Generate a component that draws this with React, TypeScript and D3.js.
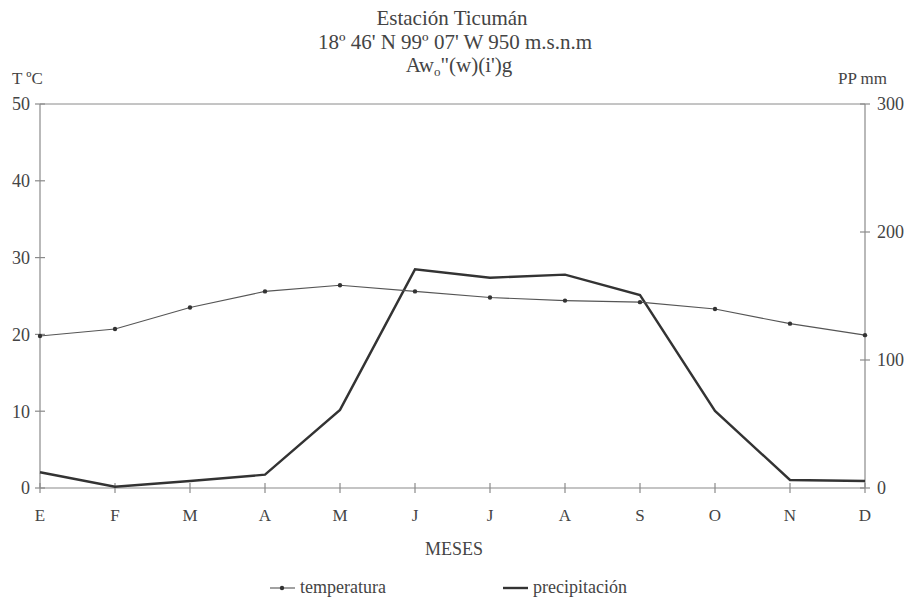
import React, { useEffect, useRef } from 'react';
import * as d3 from 'd3';

const months = ['E', 'F', 'M', 'A', 'M', 'J', 'J', 'A', 'S', 'O', 'N', 'D'];
const temperatura = [19.8, 20.7, 23.5, 25.6, 26.4, 25.6, 24.8, 24.4, 24.2, 23.3, 21.4, 19.9];
const precipitacion = [12.3, 1.0, 5.5, 10.4, 61.0, 170.8, 164.3, 166.7, 150.8, 60.2, 6.3, 5.5];
const tempTicks = [0, 10, 20, 30, 40, 50];
const ppTicks = [0, 100, 200, 300];

const FONT = "'Liberation Serif', Tinos, 'Times New Roman', Times, serif";
const TEXT = '#444';
const AXIS = '#8a8a8a';

function App() {
    const ref = useRef<SVGSVGElement>(null);

    useEffect(() => {
        const svg = d3.select(ref.current);
        svg.selectAll('*').remove();

        const left = 40, right = 865, top = 104, bottom = 488;

        const x = d3.scalePoint<number>()
            .domain(d3.range(12))
            .range([left, right]);
        const yT = d3.scaleLinear().domain([0, 50]).range([bottom, top]);
        const yP = d3.scaleLinear().domain([0, 300]).range([bottom, top]);

        // frame lines
        const g = svg.append('g');
        g.append('line').attr('x1', left).attr('x2', right).attr('y1', top).attr('y2', top)
            .attr('stroke', AXIS).attr('stroke-width', 1);
        g.append('line').attr('x1', left).attr('x2', right).attr('y1', bottom).attr('y2', bottom)
            .attr('stroke', AXIS).attr('stroke-width', 1.2);
        g.append('line').attr('x1', left).attr('x2', left).attr('y1', top).attr('y2', bottom)
            .attr('stroke', AXIS).attr('stroke-width', 1.2);
        g.append('line').attr('x1', right).attr('x2', right).attr('y1', top).attr('y2', bottom)
            .attr('stroke', AXIS).attr('stroke-width', 1.2);

        // left ticks
        tempTicks.forEach(t => {
            g.append('line').attr('x1', left - 5).attr('x2', left + 5)
                .attr('y1', yT(t)).attr('y2', yT(t)).attr('stroke', AXIS).attr('stroke-width', 1.2);
            g.append('text').attr('x', left - 10).attr('y', yT(t)).attr('dy', '0.35em')
                .attr('text-anchor', 'end').style('font-size', '18px')
                .attr('fill', TEXT).text(t);
        });

        // right ticks
        ppTicks.forEach(t => {
            g.append('line').attr('x1', right - 5).attr('x2', right + 5)
                .attr('y1', yP(t)).attr('y2', yP(t)).attr('stroke', AXIS).attr('stroke-width', 1.2);
            g.append('text').attr('x', right + 12).attr('y', yP(t)).attr('dy', '0.35em')
                .attr('text-anchor', 'start').style('font-size', '18px')
                .attr('fill', TEXT).text(t);
        });

        // bottom ticks
        months.forEach((m, i) => {
            g.append('line').attr('x1', x(i)!).attr('x2', x(i)!)
                .attr('y1', bottom - 5).attr('y2', bottom + 5).attr('stroke', AXIS).attr('stroke-width', 1.2);
            g.append('text').attr('x', x(i)!).attr('y', 521).attr('text-anchor', 'middle')
                .style('font-size', '17px').attr('fill', TEXT).text(m);
        });

        // precipitation line
        const lineP = d3.line<number>().x((d, i) => x(i)!).y(d => yP(d));
        svg.append('path').datum(precipitacion).attr('d', lineP)
            .attr('fill', 'none').attr('stroke', '#333').attr('stroke-width', 2.4)
            .attr('stroke-linejoin', 'miter');

        // temperature line
        const lineT = d3.line<number>().x((d, i) => x(i)!).y(d => yT(d));
        svg.append('path').datum(temperatura).attr('d', lineT)
            .attr('fill', 'none').attr('stroke', '#555').attr('stroke-width', 1.1);
        svg.append('g').selectAll('circle').data(temperatura).enter().append('circle')
            .attr('cx', (d, i) => x(i)!).attr('cy', d => yT(d)).attr('r', 2.2).attr('fill', '#333');

        // titles
        const title = svg.append('g').style('font-size', '21px')
            .attr('fill', TEXT).attr('text-anchor', 'middle');
        title.append('text').attr('x', 452).attr('y', 25).text('Estación Ticumán');
        title.append('text').attr('x', 455).attr('y', 49).text("18º 46' N 99º 07' W 950 m.s.n.m");
        const t3 = title.append('text').attr('x', 459).attr('y', 72);
        t3.append('tspan').text('Aw');
        t3.append('tspan').attr('dy', 4).style('font-size', '13px').text('o');
        t3.append('tspan').attr('dy', -4).text('"(w)(i\')g');

        svg.append('text').attr('x', 12).attr('y', 84).style('font-size', '17px')
            .attr('fill', TEXT).text('T ºC');
        svg.append('text').attr('x', 838).attr('y', 84).style('font-size', '17px')
            .attr('fill', TEXT).text('PP mm');
        svg.append('text').attr('x', 454).attr('y', 555).attr('text-anchor', 'middle')
            .style('font-size', '18px').attr('fill', TEXT).text('MESES');

        // legend
        const lg = svg.append('g').style('font-size', '18px').attr('fill', TEXT);
        lg.append('line').attr('x1', 270).attr('x2', 295).attr('y1', 588).attr('y2', 588)
            .attr('stroke', '#555').attr('stroke-width', 1.1);
        lg.append('circle').attr('cx', 282).attr('cy', 588).attr('r', 2.2).attr('fill', '#333');
        lg.append('text').attr('x', 300).attr('y', 593).text('temperatura');
        lg.append('line').attr('x1', 503).attr('x2', 528).attr('y1', 588).attr('y2', 588)
            .attr('stroke', '#333').attr('stroke-width', 2.4);
        lg.append('text').attr('x', 533).attr('y', 593).text('precipitación');
    }, []);

    return (
        <svg ref={ref} width={906} height={601}
            style={{ position: 'absolute', left: 0, top: 0, background: '#fff', fontFamily: FONT }} />
    );
}

export default App;
